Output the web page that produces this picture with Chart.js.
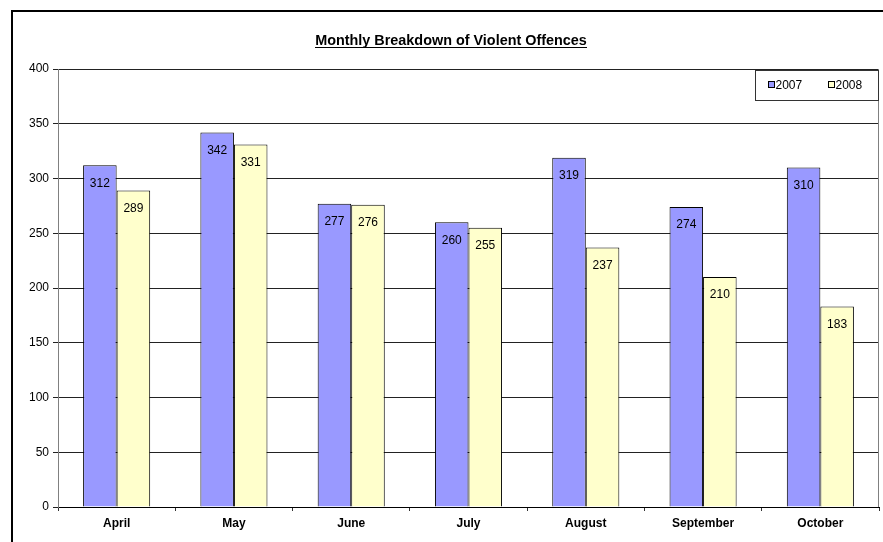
<!DOCTYPE html>
<html><head><meta charset="utf-8">
<script src="https://cdn.jsdelivr.net/npm/chart.js@4/dist/chart.umd.min.js"></script>
<style>html,body{margin:0;padding:0;background:#fff}#w{width:883px;height:542px}</style>
</head><body><div id="w"><canvas id="c" width="883" height="542"></canvas></div>
<script>
const months = ["April","May","June","July","August","September","October"];
const series2007 = [312,342,277,260,319,274,310];
const series2008 = [289,331,276,255,237,210,183];
const yTicks = [0,50,100,150,200,250,300,350,400];
const chartTitle = "Monthly Breakdown of Violent Offences";
const FONT = "Arial, 'Liberation Sans', sans-serif";

const decor = {
  id: 'decor',
  beforeDraw(chart) {
    const ctx = chart.ctx;
    ctx.save();
    ctx.fillStyle = '#fff';
    ctx.fillRect(0,0,chart.width,chart.height);
    ctx.strokeStyle = '#000'; ctx.lineWidth = 2;
    ctx.strokeRect(12, 11, 1000, 800);
    ctx.restore();
  },
  afterDatasetsDraw(chart) {
    const ctx = chart.ctx, a = chart.chartArea;
    ctx.save();
    ctx.strokeStyle = '#808080'; ctx.lineWidth = 1;
    ctx.beginPath();
    ctx.moveTo(Math.round(a.right)-0.5, a.top); ctx.lineTo(Math.round(a.right)-0.5, a.bottom);
    ctx.stroke();
    // data labels
    ctx.fillStyle = '#000';
    ctx.font = '12px ' + FONT;
    ctx.textAlign = 'center'; ctx.textBaseline = 'middle';
    chart.data.datasets.forEach((ds, i) => {
      chart.getDatasetMeta(i).data.forEach((bar, j) => {
        ctx.fillText(String(ds.data[j]), bar.x, bar.y + 18);
      });
    });
    // title
    ctx.font = 'bold 14.4px ' + FONT;
    ctx.textBaseline = 'alphabetic';
    const tx = 451, ty = 45;
    ctx.fillText(chartTitle, tx, ty);
    const tw = ctx.measureText(chartTitle).width;
    ctx.fillRect(Math.round(tx - tw/2), ty + 2, Math.round(tw), 1);
    // legend
    const lx = 755.5, ly = 70.5, lw = 123, lh = 30;
    ctx.fillStyle = '#fff'; ctx.fillRect(lx, ly, lw, lh);
    ctx.strokeStyle = '#333'; ctx.lineWidth = 1; ctx.strokeRect(lx, ly, lw, lh);
    ctx.font = '12px ' + FONT; ctx.textAlign = 'left'; ctx.textBaseline = 'middle';
    const items = [[chart.data.datasets[0], 768.5], [chart.data.datasets[1], 828.5]];
    items.forEach(([ds, x]) => {
      ctx.fillStyle = ds.backgroundColor; ctx.fillRect(x, 81.5, 6, 6);
      ctx.strokeStyle = '#000'; ctx.strokeRect(x, 81.5, 6, 6);
      ctx.fillStyle = '#000'; ctx.fillText(ds.label, x + 7, 85.5);
    });
    ctx.restore();
  }
};

new Chart(document.getElementById('c'), {
  type: 'bar',
  data: {
    labels: months,
    datasets: [
      { label: '2007', data: series2007, backgroundColor: '#9999FF', borderColor: '#000', borderWidth: 1, borderSkipped: 'bottom' },
      { label: '2008', data: series2008, backgroundColor: '#FFFFCC', borderColor: '#000', borderWidth: 1, borderSkipped: 'bottom' }
    ]
  },
  options: {
    responsive: false, animation: false,
    layout: { padding: { left: 0, right: 4, top: 69, bottom: 0 } },
    datasets: { bar: { categoryPercentage: 0.572, barPercentage: 1.0 } },
    plugins: { legend: { display: false }, title: { display: false }, tooltip: { enabled: false } },
    scales: {
      x: {
        grid: { drawOnChartArea: false, tickLength: 4, color: '#333' },
        border: { color: '#000', width: 1 },
        ticks: { color: '#000', font: { family: FONT, size: 12, weight: 'bold' }, padding: 5, maxRotation: 0 },
        afterFit(s) { s.height = 35; }
      },
      y: {
        min: 0, max: 400,
        afterBuildTicks(s) { s.ticks = yTicks.map(v => ({ value: v })); },
        grid: { color: '#222', tickLength: 5, lineWidth: 1 },
        border: { color: '#808080', width: 1 },
        ticks: { color: '#000', font: { family: FONT, size: 12 }, padding: 4 },
        afterFit(s) { s.width = 58; }
      }
    }
  },
  plugins: [decor]
});
</script>
</body></html>
